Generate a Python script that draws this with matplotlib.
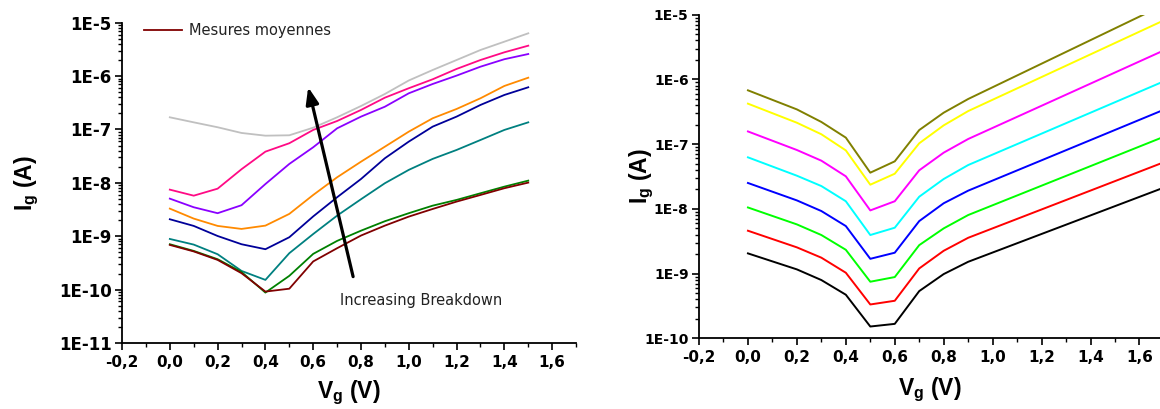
import numpy as np
import matplotlib
matplotlib.use('Agg')
import matplotlib.pyplot as plt
from matplotlib.ticker import FixedLocator, MultipleLocator, LogLocator, FuncFormatter, NullFormatter

plt.rcParams['font.family'] = ['Liberation Sans', 'DejaVu Sans']
plt.rcParams['mathtext.fontset'] = 'custom'
plt.rcParams['mathtext.rm'] = 'Liberation Sans:bold'
plt.rcParams['mathtext.it'] = 'Liberation Sans:bold'
plt.rcParams['mathtext.bf'] = 'Liberation Sans:bold'

# left panel: Ig(Vg), several devices, 0 -> 1.5 V
vg_left = [0.0, 0.1, 0.2, 0.3, 0.4, 0.5, 0.6, 0.7, 0.8, 0.9, 1.0, 1.1, 1.2, 1.3, 1.4, 1.5]
ig_gray = [1.69e-7, 1.36e-7, 1.10e-7, 8.6e-8, 7.65e-8, 7.78e-8, 1.08e-7, 1.69e-7,
           2.75e-7, 4.62e-7, 8.27e-7, 1.30e-6, 2.0e-6, 3.08e-6, 4.41e-6, 6.33e-6]
ig_pink = [7.46e-9, 5.75e-9, 7.78e-9, 1.80e-8, 3.84e-8, 5.52e-8, 9.8e-8, 1.44e-7,
           2.32e-7, 3.94e-7, 5.92e-7, 8.71e-7, 1.36e-6, 2.0e-6, 2.79e-6, 3.71e-6]
ig_purple = [5.06e-9, 3.49e-9, 2.70e-9, 3.81e-9, 9.5e-9, 2.26e-8, 4.64e-8, 1.05e-7,
             1.74e-7, 2.67e-7, 4.76e-7, 7.11e-7, 1.02e-6, 1.50e-6, 2.07e-6, 2.59e-6]
ig_orange = [3.29e-9, 2.14e-9, 1.56e-9, 1.37e-9, 1.58e-9, 2.62e-9, 5.93e-9, 1.27e-8,
             2.49e-8, 4.76e-8, 9.1e-8, 1.62e-7, 2.42e-7, 3.84e-7, 6.53e-7, 9.33e-7]
ig_navy = [2.08e-9, 1.56e-9, 1.01e-9, 7.08e-10, 5.71e-10, 9.57e-10, 2.35e-9, 5.37e-9,
           1.18e-8, 2.89e-8, 5.92e-8, 1.13e-7, 1.74e-7, 2.88e-7, 4.43e-7, 6.17e-7]
ig_teal = [8.89e-10, 6.97e-10, 4.60e-10, 2.24e-10, 1.52e-10, 4.81e-10, 1.10e-9, 2.43e-9,
           4.93e-9, 9.84e-9, 1.75e-8, 2.81e-8, 4.13e-8, 6.35e-8, 9.8e-8, 1.36e-7]
ig_green = [7.08e-10, 5.31e-10, 3.71e-10, 2.14e-10, 8.79e-11, 1.81e-10, 4.67e-10, 8.17e-10,
            1.27e-9, 1.91e-9, 2.70e-9, 3.74e-9, 4.79e-9, 6.38e-9, 8.49e-9, 1.10e-8]
ig_mean = [6.87e-10, 5.19e-10, 3.60e-10, 2.03e-10, 9.18e-11, 1.04e-10, 3.37e-10, 5.96e-10,
           1.03e-9, 1.58e-9, 2.33e-9, 3.24e-9, 4.45e-9, 5.93e-9, 7.93e-9, 1.01e-8]

# right panel: family of shifted curves
vg_right = [0.0, 0.2, 0.3, 0.4, 0.5, 0.6, 0.7, 0.8, 0.9, 1.7]
ig_olive = [6.78e-7, 3.44e-7, 2.20e-7, 1.26e-7, 3.62e-8, 5.42e-8, 1.65e-7, 3.06e-7, 4.98e-7, 1.42e-5]
ig_yellow = [4.22e-7, 2.14e-7, 1.42e-7, 8.0e-8, 2.36e-8, 3.49e-8, 1.03e-7, 1.95e-7, 3.24e-7, 8.18e-6]
ig_magenta = [1.57e-7, 8.11e-8, 5.55e-8, 3.18e-8, 9.46e-9, 1.31e-8, 3.94e-8, 7.38e-8, 1.20e-7, 2.81e-6]
ig_cyan = [6.25e-8, 3.25e-8, 2.25e-8, 1.31e-8, 3.94e-9, 5.11e-9, 1.54e-8, 2.89e-8, 4.75e-8, 9.35e-7]
ig_blue = [2.51e-8, 1.35e-8, 9.25e-9, 5.42e-9, 1.69e-9, 2.10e-9, 6.47e-9, 1.22e-8, 1.91e-8, 3.40e-7]
ig_lime = [1.05e-8, 5.75e-9, 3.94e-9, 2.33e-9, 7.48e-10, 8.83e-10, 2.75e-9, 4.99e-9, 8.02e-9, 1.30e-7]
ig_red = [4.59e-9, 2.54e-9, 1.76e-9, 1.03e-9, 3.33e-10, 3.80e-10, 1.20e-9, 2.25e-9, 3.57e-9, 5.25e-8]
ig_black = [2.05e-9, 1.16e-9, 7.94e-10, 4.71e-10, 1.52e-10, 1.67e-10, 5.36e-10, 9.82e-10, 1.52e-9, 2.13e-8]

left_series = [ig_gray, ig_pink, ig_purple, ig_orange, ig_navy, ig_teal, ig_green]
left_colors = ['#c0c0c0', '#ff0a85', '#8a00ff', '#ff8a00', '#000099', '#008080', '#008000']
right_series = [ig_olive, ig_yellow, ig_magenta, ig_cyan, ig_blue, ig_lime, ig_red, ig_black]
right_colors = ['#808000', '#ffff00', '#ff00ff', '#00ffff', '#0000ff', '#00ff00', '#ff0000', '#000000']


def comma(v, pos):
    return ('%.1f' % v).replace('.', ',')


def sci(v, pos):
    return '1E%d' % int(round(np.log10(v)))


def style_axes(ax, ymin, ymax, xmax, xfs, yfs):
    ax.set_yscale('log')
    ax.set_xlim(-0.2, xmax)
    ax.set_ylim(ymin, ymax)
    ax.spines['top'].set_visible(False)
    ax.spines['right'].set_visible(False)
    for s in ('left', 'bottom'):
        ax.spines[s].set_linewidth(1.3)
    ax.xaxis.set_major_locator(FixedLocator([-0.2, 0.0, 0.2, 0.4, 0.6, 0.8, 1.0, 1.2, 1.4, 1.6]))
    ax.xaxis.set_minor_locator(MultipleLocator(0.1))
    ax.xaxis.set_major_formatter(FuncFormatter(comma))
    ax.yaxis.set_major_locator(LogLocator(base=10, numticks=20))
    ax.yaxis.set_minor_locator(LogLocator(base=10, subs=np.arange(2, 10), numticks=20))
    ax.yaxis.set_major_formatter(FuncFormatter(sci))
    ax.yaxis.set_minor_formatter(NullFormatter())
    ax.tick_params(which='major', direction='out', length=5, width=1.2)
    ax.tick_params(which='minor', direction='out', length=3, width=1.0)
    ax.tick_params(axis='x', labelsize=xfs)
    ax.tick_params(axis='y', labelsize=yfs, pad=2.5)
    for lab in ax.get_xticklabels() + ax.get_yticklabels():
        lab.set_fontweight('bold')
        lab.set_family('DejaVu Sans')


fig = plt.figure(figsize=(11.6, 4.09), dpi=100)
ax1 = fig.add_axes([0.1052, 0.1614, 0.3914, 0.7831])
ax2 = fig.add_axes([0.6026, 0.1729, 0.3974, 0.7912])

for ys, c in zip(left_series, left_colors):
    ax1.plot(vg_left, ys, color=c, lw=1.3)
ax1.plot(vg_left, ig_mean, color='#800000', lw=1.3, label='Mesures moyennes')
style_axes(ax1, 1e-11, 1e-5, 1.7, 11, 12)
ax1.set_xlabel(r'V$_g$ (V)', fontsize=16.5, fontweight='bold')
ax1.set_ylabel(r'I$_g$ (A)', fontsize=16.5, fontweight='bold')
ax1.xaxis.set_label_coords(0.5, -0.155)
ax1.xaxis.label.set_va('center')
ax1.yaxis.set_label_coords(-0.21, 0.5)
ax1.yaxis.label.set_va('center')
leg = ax1.legend(loc='upper left', bbox_to_anchor=(0.02, 1.04), frameon=False,
                 prop={'family': 'DejaVu Sans', 'size': 10.5},
                 handlelength=2.6, handletextpad=0.45)
for t in leg.get_texts():
    t.set_color('#222222')
ax1.annotate('', xy=(0.579, 6.2e-7), xytext=(0.767, 1.75e-10),
             arrowprops=dict(arrowstyle='-|>,head_length=1.0,head_width=0.38',
                             color='black', lw=2.3, shrinkA=0, shrinkB=0))
ax1.text(0.714, 6.2e-11, 'Increasing Breakdown', fontsize=10.5, family='DejaVu Sans',
         color='#222222', ha='left', va='center')

for ys, c in zip(right_series, right_colors):
    ax2.plot(vg_right, ys, color=c, lw=1.4)
style_axes(ax2, 1e-10, 1e-5, 1.684, 11, 10)
ax2.set_xlabel(r'V$_g$ (V)', fontsize=16.5, fontweight='bold')
ax2.set_ylabel(r'I$_g$ (A)', fontsize=16.5, fontweight='bold')
ax2.xaxis.set_label_coords(0.5, -0.16)
ax2.xaxis.label.set_va('center')
ax2.yaxis.set_label_coords(-0.125, 0.5)
ax2.yaxis.label.set_va('center')

fig.savefig('out.png', dpi=100)
